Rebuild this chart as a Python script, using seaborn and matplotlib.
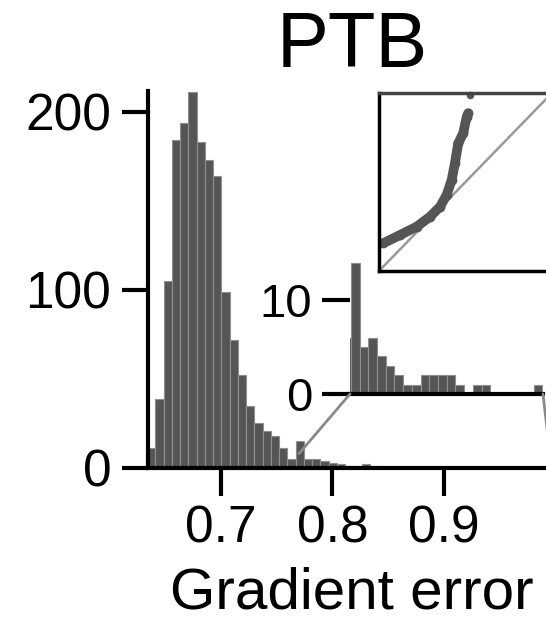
import numpy as np
import pandas as pd
import matplotlib
matplotlib.use("Agg")
import matplotlib.pyplot as plt
from matplotlib.patches import ConnectionPatch
import seaborn as sns

# main histogram: counts per bin, bins of equal width
main_bin_start = 0.6343
main_bin_width = 0.00738
main_counts = [11, 39, 105, 184, 194, 211, 183, 173, 164, 99, 72, 52, 35,
               25, 21, 18, 11, 5, 15, 5, 5, 4, 3, 2, 1, 1, 2, 1, 1]

# zoomed tail shown in the inset
tail_bin_start = 0.7558
tail_bin_width = 0.01037
tail_counts = [6, 14, 5, 6, 4, 3, 2, 1, 1, 2, 2, 2, 2, 1, 0, 1, 1,
               0, 0, 0, 0, 0, 1]

# quantile-quantile curve (axes fraction)
qq_theory = [0.025, 0.121, 0.218, 0.295, 0.353, 0.391, 0.420, 0.439,
             0.458, 0.487, 0.507, 0.516]
qq_sample = [0.156, 0.202, 0.249, 0.305, 0.361, 0.427, 0.511, 0.605,
             0.717, 0.774, 0.867, 0.886]
qq_outlier_x = [0.526]
qq_outlier_y = [0.989]

main_ticks_x = [0.7, 0.8, 0.9]
main_ticks_y = [0, 100, 200]
inset_ticks_y = [0, 10]

BAR = "#555555"
EDGE = "#8f8f8f"
LINE = "#8a8a8a"

sns.set_style("ticks")
plt.rcParams["font.family"] = ["Liberation Sans", "DejaVu Sans"]
plt.rcParams["text.color"] = "black"
plt.rcParams["axes.labelcolor"] = "black"
plt.rcParams["xtick.color"] = "black"
plt.rcParams["ytick.color"] = "black"
plt.rcParams["axes.axisbelow"] = False


def hist_from_counts(ax, start, width, counts):
    edges = start + width * np.arange(len(counts) + 1)
    df = pd.DataFrame({"x": edges[:-1] + width / 2, "n": counts})
    sns.histplot(data=df, x="x", weights="n", bins=list(edges), color=BAR,
                 alpha=1, edgecolor=EDGE, linewidth=0.8, ax=ax)


fig = plt.figure(figsize=(5.46, 6.22), dpi=100)

# main axes
ax = fig.add_axes([0.2711, 0.2476, 0.7472, 0.6067])
hist_from_counts(ax, main_bin_start, main_bin_width, main_counts)
ax.set_xlim(0.635, 1.0)
ax.set_ylim(0, 212)
ax.set_xticks(main_ticks_x)
ax.set_yticks(main_ticks_y)
ax.tick_params(axis="x", bottom=True, direction="out", length=20, width=3,
               pad=6, labelsize=37, color="black")
ax.tick_params(axis="y", length=18.5, width=3, pad=8, labelsize=37, color="black")
ax.set_axisbelow(False)
ax.set_ylabel("")
ax.set_xlabel("Gradient error", fontsize=42, labelpad=10)
ax.set_title("PTB", fontsize=56, pad=17)
for s in ["top", "right"]:
    ax.spines[s].set_visible(False)
for s in ["left", "bottom"]:
    ax.spines[s].set_linewidth(3)
    ax.spines[s].set_color("black")

# inset histogram of the tail
axi = fig.add_axes([0.641, 0.3666, 0.3535, 0.2187])
hist_from_counts(axi, tail_bin_start, tail_bin_width, tail_counts)
axi.set_xlim(0.765, 0.995)
axi.set_ylim(0, 14.5)
axi.set_xticks([])
axi.set_yticks(inset_ticks_y)
axi.tick_params(axis="y", length=20, width=3, pad=7, labelsize=34, color="black")
axi.set_ylabel("")
axi.set_xlabel("")
axi.patch.set_alpha(0)
for s in ["top", "right", "left"]:
    axi.spines[s].set_visible(False)
axi.spines["bottom"].set_linewidth(3)
axi.spines["bottom"].set_color("black")

# connector lines from inset to main histogram
for xa, xm, ym in [(0, 0.770, 8), (1, 0.996, 0)]:
    con = ConnectionPatch(xyA=(xa, 0), coordsA=axi.transAxes,
                          xyB=(xm, ym), coordsB=ax.transData,
                          color=LINE, linewidth=2)
    fig.add_artist(con)

# QQ inset
axq = fig.add_axes([0.6941, 0.5643, 0.3168, 0.2862])
axq.set_xlim(0, 1)
axq.set_ylim(0, 1)
axq.axline((0, 0), slope=1, color="#999999", linewidth=1.8, zorder=1)
sns.lineplot(x=qq_theory, y=qq_sample, sort=False, color=BAR, linewidth=7,
             solid_capstyle="round", ax=axq)
sns.scatterplot(x=qq_theory, y=qq_sample, color=BAR, s=50, linewidth=0, ax=axq)
sns.scatterplot(x=qq_outlier_x, y=qq_outlier_y, color=BAR, s=30, linewidth=0,
                ax=axq, clip_on=False)
axq.set_xticks([])
axq.set_yticks([])
for s in ["left", "bottom", "right"]:
    axq.spines[s].set_linewidth(2.5)
    axq.spines[s].set_color("black")
axq.spines["top"].set_linewidth(2.5)
axq.spines["top"].set_color("#444444")

fig.savefig("out.png", dpi=100)
